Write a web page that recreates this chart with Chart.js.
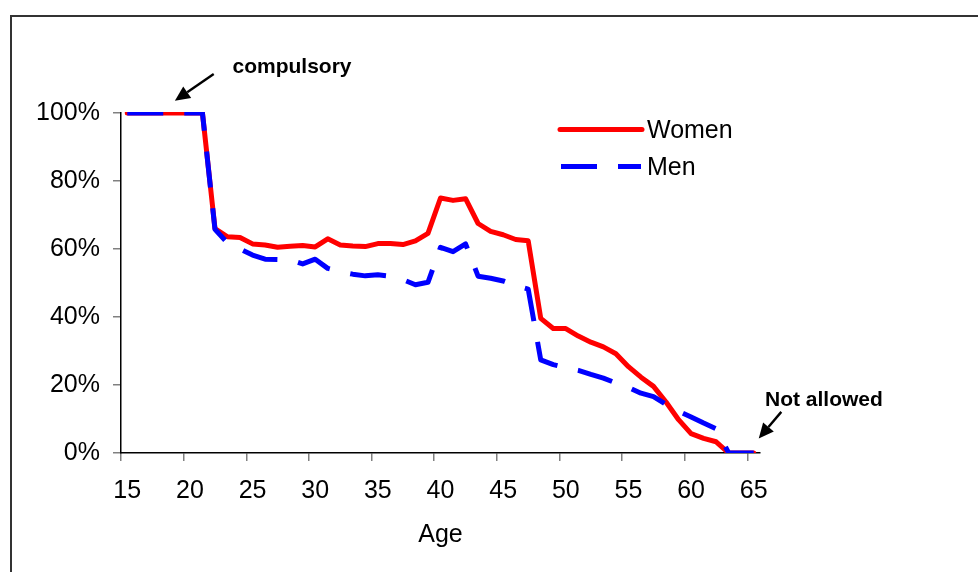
<!DOCTYPE html>
<html>
<head>
<meta charset="utf-8">
<script src="https://cdn.jsdelivr.net/npm/chart.js@4.4.1/dist/chart.umd.min.js"></script>
<style>
  html, body { margin: 0; padding: 0; background: #ffffff; }
  #wrap { width: 978px; height: 572px; position: relative; }
  canvas { display: block; }
</style>
</head>
<body>
<div id="wrap"><canvas id="c" width="978" height="572"></canvas></div>
<script>
// ---- Data ----
const ages = [15,16,17,18,19,20,21,22,23,24,25,26,27,28,29,30,31,32,33,34,35,36,37,38,39,40,
              41,42,43,44,45,46,47,48,49,50,51,52,53,54,55,56,57,58,59,60,61,62,63,64,65];
const women = [100,100,100,100,100,100,100,66.0,63.6,63.4,61.5,61.2,60.5,60.8,61.0,60.6,63.0,61.2,60.9,60.7,
               61.6,61.6,61.3,62.4,64.6,75.0,74.3,74.8,67.5,65.2,64.2,62.8,62.4,39.6,36.6,36.6,34.4,32.6,31.2,29.2,
               25.4,22.3,19.6,15.0,9.8,5.7,4.3,3.3,0,0,0];
const men = [100,100,100,100,100,100,100,65.8,61.8,60.0,58.2,57.0,56.9,56.8,55.6,57.0,54.3,53.3,52.6,52.1,
             52.4,52.0,51.0,49.5,50.2,60.5,59.2,61.5,52.0,51.4,50.6,49.2,48.2,27.4,26.0,25.1,24.3,23.1,22.0,20.6,
             19.3,17.6,16.6,14.3,12.3,10.6,8.8,7.1,0,0,0];
const yTickValues = [0,20,40,60,80,100];
const seriesNames = ['Women', 'Men'];
const annotations = [
  { text: 'compulsory', textAge: 23.4, textVal: 111.9, tailAge: 21.9, tailVal: 111.5, tipAge: 18.8, tipVal: 103.6 },
  { text: 'Not allowed', textAge: 65.9, textVal: 13.8, tailAge: 67.2, tailVal: 12.1, tipAge: 65.4, tipVal: 4.3 }
];

const FONT = '"Liberation Sans", Arial, Helvetica, sans-serif';
const FS = 25;

const frameAndExtras = {
  id: 'frameAndExtras',
  beforeDraw(chart) {
    const ctx = chart.ctx;
    ctx.save();
    ctx.fillStyle = '#ffffff';
    ctx.fillRect(0, 0, chart.width, chart.height);
    ctx.restore();
  },
  afterDraw(chart) {
    const ctx = chart.ctx;
    const xs = chart.scales.x, ys = chart.scales.y;
    const px = a => xs.getPixelForValue(a - ages[0]);
    const py = v => ys.getPixelForValue(v);
    ctx.save();
    // outer frame
    ctx.strokeStyle = '#333333';
    ctx.lineWidth = 2;
    ctx.strokeRect(11, 16, 2000, 2000);

    // legend
    const lx0 = 560, lx1 = 642;
    const ds = chart.data.datasets;
    const rows = [{ds: ds[0], y: 129.5, ty: 131}, {ds: ds[1], y: 166.5, ty: 168}];
    rows.forEach(r => {
      const dashed = !!(r.ds.borderDash && r.ds.borderDash.length);
      ctx.beginPath();
      ctx.strokeStyle = r.ds.borderColor;
      ctx.lineWidth = r.ds.borderWidth;
      ctx.lineCap = dashed ? 'butt' : 'round';
      ctx.setLineDash(dashed ? r.ds.borderDash : []);
      ctx.moveTo(lx0 + (dashed ? 1 : 0), r.y);
      ctx.lineTo(lx1 - (dashed ? 1 : 0), r.y);
      ctx.stroke();
      ctx.setLineDash([]);
      ctx.fillStyle = '#000000';
      ctx.font = FS + 'px ' + FONT;
      ctx.textBaseline = 'middle';
      ctx.textAlign = 'left';
      ctx.fillText(r.ds.label, 647, r.ty);
    });

    // annotations with arrows
    annotations.forEach(an => {
      ctx.fillStyle = '#000000';
      ctx.font = 'bold 21px ' + FONT;
      ctx.textBaseline = 'alphabetic';
      ctx.textAlign = 'left';
      ctx.fillText(an.text, px(an.textAge), py(an.textVal));
      const tx = px(an.tailAge), ty = py(an.tailVal);
      const hx = px(an.tipAge), hy = py(an.tipVal);
      const ang = Math.atan2(hy - ty, hx - tx);
      const headLen = 15, headW = 7;
      const bx = hx - headLen * Math.cos(ang), by = hy - headLen * Math.sin(ang);
      ctx.strokeStyle = '#000000';
      ctx.lineWidth = 2.4;
      ctx.lineCap = 'butt';
      ctx.beginPath();
      ctx.moveTo(tx, ty);
      ctx.lineTo(bx, by);
      ctx.stroke();
      ctx.beginPath();
      ctx.moveTo(hx, hy);
      ctx.lineTo(bx + headW * Math.sin(ang), by - headW * Math.cos(ang));
      ctx.lineTo(bx - headW * Math.sin(ang), by + headW * Math.cos(ang));
      ctx.closePath();
      ctx.fill();
    });
    ctx.restore();
  }
};

new Chart(document.getElementById('c'), {
  type: 'line',
  data: {
    labels: ages,
    datasets: [
      {
        label: seriesNames[0],
        data: women,
        borderColor: '#ff0000',
        backgroundColor: '#ff0000',
        borderWidth: 5,
        borderJoinStyle: 'round',
        borderCapStyle: 'round',
        pointRadius: 0,
        tension: 0,
        fill: false,
        order: 2,
        clip: {left: 10, right: 10, top: 1, bottom: 0}
      },
      {
        label: seriesNames[1],
        data: men,
        borderColor: '#0000ff',
        backgroundColor: '#0000ff',
        borderWidth: 5,
        borderDash: [36, 21],
        borderJoinStyle: 'round',
        borderCapStyle: 'butt',
        pointRadius: 0,
        tension: 0,
        fill: false,
        order: 1,
        clip: {left: 10, right: 10, top: 1, bottom: 0}
      }
    ]
  },
  options: {
    responsive: false,
    animation: false,
    events: [],
    layout: { padding: { left: 0, top: 113, right: 218, bottom: 0 } },
    plugins: { legend: { display: false }, tooltip: { enabled: false } },
    scales: {
      x: {
        type: 'category',
        offset: true,
        afterFit: s => { s.height = 119; },
        grid: {
          offset: true,
          drawOnChartArea: false,
          drawTicks: true,
          tickLength: 8,
          lineWidth: 1.5,
          color: ctx => (ctx.index !== undefined && ctx.index % 5 === 0) ? '#808080' : 'rgba(0,0,0,0)'
        },
        border: { display: true, color: '#000000', width: 1.5 },
        ticks: {
          autoSkip: false,
          maxRotation: 0,
          minRotation: 0,
          padding: 15,
          color: '#000000',
          font: { family: FONT, size: FS },
          callback: (v, i) => (ages[i] % 5 === 0 ? String(ages[i]) : '')
        },
        title: {
          display: true,
          text: 'Age',
          color: '#000000',
          font: { family: FONT, size: FS },
          padding: { top: 0, bottom: 22 }
        }
      },
      y: {
        min: 0,
        max: 100,
        afterFit: s => { s.width = 121; },
        afterBuildTicks: s => { s.ticks = yTickValues.map(v => ({ value: v })); },
        grid: {
          drawOnChartArea: false,
          drawTicks: true,
          tickLength: 8,
          lineWidth: 1.5,
          color: '#808080'
        },
        border: { display: true, color: '#000000', width: 1.5 },
        ticks: {
          padding: 13,
          color: '#000000',
          font: { family: FONT, size: FS },
          callback: v => v + '%'
        }
      }
    }
  },
  plugins: [frameAndExtras]
});
</script>
</body>
</html>
